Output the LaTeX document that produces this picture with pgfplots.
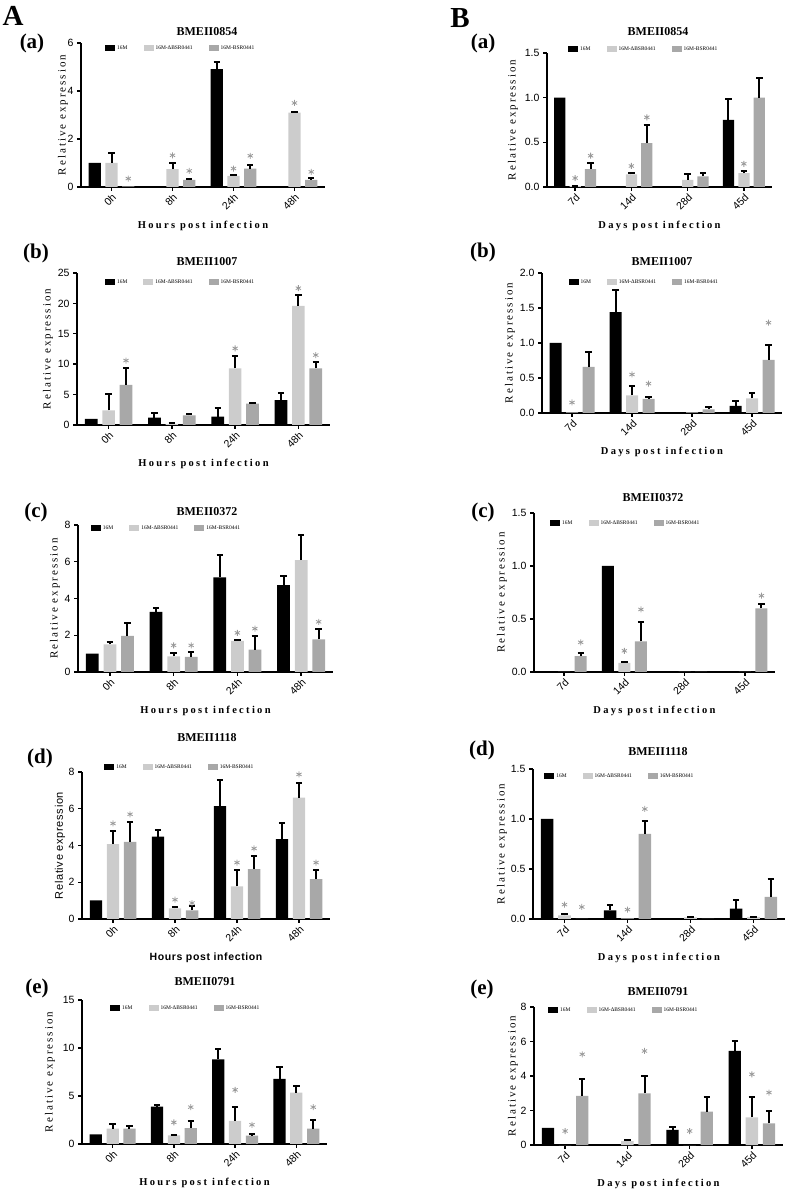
\documentclass[border=0pt]{standalone}
\usepackage{fontspec}
\setmainfont{Liberation Serif}
\setsansfont{Liberation Sans}
\newfontfamily\lsserif[LetterSpace=18]{Liberation Serif}
\newfontfamily\lsserifx[LetterSpace=22]{Liberation Serif}
\newfontfamily\lssans[LetterSpace=6]{Liberation Sans}
\usepackage{pgfplots}
\usepackage{pgfplotstable}
\pgfplotsset{compat=1.18}
\definecolor{lg}{gray}{0.80}
\definecolor{dg}{gray}{0.66}
\definecolor{ast}{gray}{0.60}

\pgfplotsset{
 panel/.style={
  scale only axis, anchor=south west,
  axis lines*=left,
  axis line style={line width=1.8pt},
  xmin=-0.5, xmax=3.5, ymin=0,
  xtick={0,1,2,3},
  tick align=outside, major tick length=4pt,
  tick style={black, line width=1.4pt},
  x tick label style={rotate=45, anchor=north east, font=\sffamily\fontsize{10.5}{12}\selectfont, inner sep=1pt},
  y tick label style={font=\sffamily\fontsize{10.5}{12}\selectfont},
  /pgf/number format/assume math mode=true,
  clip=false,
  every axis x label/.style={at={(axis description cs:0.5,0)}, anchor=center, yshift=-39pt},
  every axis y label/.style={at={(axis description cs:0,0.5)}, anchor=center, rotate=90},
  xlabel style={font=\lsserifx\bfseries\fontsize{10.5}{12}\selectfont},
  ylabel style={font=\lsserif\fontsize{11}{13}\selectfont},
  ylabel={Relative expression},
  legend columns=3,
  legend style={draw=none, fill=none, anchor=west, font=\fontsize{5.5}{6}\selectfont, inner sep=0pt,
    /tikz/every even column/.append style={column sep=14pt}},
  legend cell align=left,
  legend image code/.code={\fill[##1] (0pt,-3pt) rectangle (10pt,3pt);},
 },
 hours/.style={xticklabels={0h,8h,24h,48h}, xlabel={Hours post infection}},
 days/.style={xticklabels={7d,14d,28d,45d}, xlabel={Days post infection},
   yticklabel style={/pgf/number format/fixed, /pgf/number format/fixed zerofill, /pgf/number format/precision=1}},
 eb/.style={forget plot, draw=none, mark=none,
   error bars/y dir=plus, error bars/y explicit,
   error bars/error mark=-,
   error bars/error bar style={draw=black, line width=2pt},
   error bars/error mark options={rotate=90, draw=black, line width=2pt, mark size=3.2pt}},
 bk/.style={ybar, bar width=0.2, fill=black, draw=none},
 bl/.style={ybar, bar width=0.2, fill=lg, draw=none},
 bd/.style={ybar, bar width=0.2, fill=dg, draw=none},
 as/.style={only marks, mark=asterisk, mark size=3pt, color=ast, mark options={line width=0.8pt}, forget plot},
}

% x k ke d de c ce  (k = 16M, d = 16M-dBSR0441, c = 16M-BSR0441)
\pgfplotstableread{
x k ke d de c ce
0 1.0 0 1.0 0.4 0.03 0
1 0 0 0.74 0.26 0.3 0.05
2 4.91 0.28 0.46 0.04 0.77 0.13
3 0.02 0 3.1 0.04 0.3 0.08
}\tAa
\pgfplotstableread{
x k ke d de c ce
0 1.0 0 0.01 0.005 0.2 0.07
1 0 0 0.14 0.02 0.49 0.2
2 0 0 0.08 0.07 0.12 0.04
3 0.75 0.23 0.155 0.025 1.0 0.22
}\tBa
\pgfplotstableread{
x k ke d de c ce
0 1.0 0 2.4 2.7 6.6 2.7
1 1.2 0.7 0.2 0.1 1.6 0.2
2 1.37 1.38 9.3 2.1 3.5 0.1
3 4.1 1.1 19.6 1.7 9.3 1.0
}\tAb
\pgfplotstableread{
x k ke d de c ce
0 1.0 0 0.01 0 0.66 0.21
1 1.44 0.32 0.25 0.14 0.2 0.03
2 0 0 0.01 0 0.05 0.03
3 0.1 0.07 0.21 0.08 0.76 0.21
}\tBb
\pgfplotstableread{
x k ke d de c ce
0 1.0 0 1.5 0.14 1.96 0.68
1 3.27 0.23 0.85 0.19 0.82 0.28
2 5.15 1.21 1.69 0.07 1.22 0.73
3 4.73 0.49 6.09 1.36 1.78 0.55
}\tAc
\pgfplotstableread{
x k ke d de c ce
0 0 0 0 0 0.15 0.03
1 1.0 0 0.085 0.009 0.29 0.18
2 0 0 0 0 0 0
3 0 0 0 0 0.6 0.045
}\tBc
\pgfplotstableread{
x k ke d de c ce
0 1.01 0 4.08 0.72 4.2 1.09
1 4.48 0.36 0.58 0.05 0.47 0.22
2 6.14 1.44 1.77 0.9 2.71 0.72
3 4.35 0.9 6.6 0.82 2.17 0.5
}\tAd
\pgfplotstableread{
x k ke d de c ce
0 1.0 0 0.037 0.01 0 0
1 0.087 0.05 0.005 0 0.85 0.13
2 0.005 0 0.017 0.006 0 0
3 0.104 0.086 0.02 0.003 0.22 0.175
}\tBd
\pgfplotstableread{
x k ke d de c ce
0 1.0 0 1.6 0.48 1.6 0.23
1 3.9 0.18 0.9 0.07 1.66 0.76
2 8.82 1.04 2.42 1.42 0.87 0.2
3 6.78 1.22 5.36 0.63 1.6 0.86
}\tAe
\pgfplotstableread{
x k ke d de c ce
0 1.0 0 0 0 2.85 1.0
1 0 0 0.23 0.06 2.99 1.01
2 0.87 0.15 0 0 1.93 0.83
3 5.45 0.58 1.6 1.16 1.25 0.72
}\tBe

\newcommand{\bars}[1]{%
 \addplot[bk] table[x expr=\thisrow{x}-0.275, y=k] #1;
 \addplot[bl] table[x expr=\thisrow{x}, y=d] #1;
 \addplot[bd] table[x expr=\thisrow{x}+0.275, y=c] #1;
 \legend{16M,16M-ΔBSR0441,16M-BSR0441}
 \addplot[eb, restrict expr to domain={\thisrow{ke}}{0.0001:1000}] table[x expr=\thisrow{x}-0.275, y=k, y error=ke] #1;
 \addplot[eb, restrict expr to domain={\thisrow{de}}{0.0001:1000}] table[x expr=\thisrow{x}, y=d, y error=de] #1;
 \addplot[eb, restrict expr to domain={\thisrow{ce}}{0.0001:1000}] table[x expr=\thisrow{x}+0.275, y=c, y error=ce] #1;
}

\begin{document}
\begin{tikzpicture}
\useasboundingbox (0,0) rectangle (787pt,1193pt);
\tikzset{big/.style={font=\bfseries\fontsize{29}{30}\selectfont},
         lab/.style={font=\bfseries\fontsize{21}{22}\selectfont},
         ttl/.style={font=\bfseries\fontsize{12}{14}\selectfont}}
\node[big] at (13pt,1177pt) {A};
\node[big] at (460pt,1175pt) {B};
\node[lab] at (32pt,1150pt) {(a)};
\node[lab] at (36pt,940pt) {(b)};
\node[lab] at (36pt,681pt) {(c)};
\node[lab] at (40pt,435pt) {(d)};
\node[lab] at (37pt,205pt) {(e)};
\node[lab] at (483pt,1150pt) {(a)};
\node[lab] at (483pt,941pt) {(b)};
\node[lab] at (483pt,681pt) {(c)};
\node[lab] at (482pt,443pt) {(d)};
\node[lab] at (482pt,204pt) {(e)};
\node[ttl] at (207pt,1161pt) {BMEII0854};
\node[ttl] at (207pt,931pt) {BMEII1007};
\node[ttl] at (207pt,681pt) {BMEII0372};
\node[ttl] at (207pt,455pt) {BMEII1118};
\node[ttl] at (205pt,211pt) {BMEII0791};
\node[ttl] at (658pt,1161pt) {BMEII0854};
\node[ttl] at (662pt,931pt) {BMEII1007};
\node[ttl] at (653pt,695pt) {BMEII0372};
\node[ttl] at (658pt,441pt) {BMEII1118};
\node[ttl] at (658pt,201pt) {BMEII0791};

% A(a)
\begin{axis}[panel, hours, at={(81pt,1006pt)}, width=244pt, height=144pt,
  ymax=6, ytick={0,2,4,6}, ylabel style={yshift=18pt},
  legend style={at={(0.098,0.965)}}]
\bars{\tAa}
\addplot[as] coordinates {(0.275,0.35) (1,1.32) (1.275,0.67) (2,0.77) (2.275,1.3) (3,3.5) (3.275,0.63)};
\end{axis}
% A(b)
\begin{axis}[panel, hours, at={(77pt,768pt)}, width=253pt, height=152pt,
  ymax=25, ytick={0,5,10,15,20,25}, ylabel style={yshift=29pt},
  legend style={at={(0.11,0.94)}}]
\bars{\tAb}
\addplot[as] coordinates {(0.275,10.6) (2,12.6) (3,22.5) (3.275,11.5)};
\end{axis}
% A(c)
\begin{axis}[panel, hours, at={(78pt,521pt)}, width=255pt, height=147pt,
  ymax=8, ytick={0,2,4,6,8}, ylabel style={yshift=23pt},
  legend style={at={(0.05,0.98)}}]
\bars{\tAc}
\addplot[as] coordinates {(1,1.45) (1.275,1.45) (2,2.13) (2.275,2.36) (3.275,2.73)};
\end{axis}
% A(d)
\begin{axis}[panel, hours, at={(82pt,274pt)}, width=248pt, height=147pt,
  ymax=8, ytick={0,2,4,6,8}, ylabel style={yshift=22pt, font=\lssans\fontsize{11}{13}\selectfont},
  xlabel style={font=\lssans\bfseries\fontsize{10.5}{12}\selectfont},
  legend style={at={(0.089,1.034)}}]
\bars{\tAd}
\addplot[as] coordinates {(0,5.2) (0.275,5.7) (1,1.05) (1.275,0.87) (2,3.07) (2.275,3.84) (3,7.87) (3.275,3.07)};
\end{axis}
% A(e)
\begin{axis}[panel, hours, at={(82pt,49pt)}, width=245pt, height=144pt,
  ymax=15, ytick={0,5,10,15}, ylabel style={yshift=32pt},
  legend style={at={(0.114,0.944)}}]
\bars{\tAe}
\addplot[as] coordinates {(1,2.25) (1.275,3.84) (2,5.64) (2.275,2.0) (3.275,3.84)};
\end{axis}
% B(a)
\begin{axis}[panel, days, at={(547pt,1006pt)}, width=225pt, height=134pt,
  ymax=1.5, ytick={0,0.5,1,1.5}, ylabel style={yshift=34pt},
  legend style={at={(0.093,1.03)}}]
\bars{\tBa}
\addplot[as] coordinates {(0,0.1) (0.275,0.35) (1,0.235) (1.275,0.78) (3,0.26)};
\end{axis}
% B(b)
\begin{axis}[panel, days, at={(542pt,780pt)}, width=240pt, height=140pt,
  ymax=2, ytick={0,0.5,1,1.5,2}, ylabel style={yshift=32pt},
  legend style={at={(0.11,0.936)}}]
\bars{\tBb}
\addplot[as] coordinates {(0,0.15) (1,0.55) (1.275,0.42) (3.275,1.29)};
\end{axis}
% B(c)
\begin{axis}[panel, days, at={(534pt,521pt)}, width=241pt, height=159pt,
  ymax=1.5, ytick={0,0.5,1,1.5}, ylabel style={yshift=32pt},
  legend style={at={(0.066,0.937)}}]
\bars{\tBc}
\addplot[as] coordinates {(0.275,0.28) (1,0.2) (1.275,0.59) (3.275,0.72)};
\end{axis}
% B(d)
\begin{axis}[panel, days, at={(533pt,274pt)}, width=252pt, height=150pt,
  ymax=1.5, ytick={0,0.5,1,1.5}, ylabel style={yshift=31pt},
  legend style={at={(0.044,0.953)}}]
\bars{\tBd}
\addplot[as] coordinates {(0,0.144) (0.275,0.12) (1,0.094) (1.275,1.1)};
\end{axis}
% B(e)
\begin{axis}[panel, days, at={(534pt,48pt)}, width=249pt, height=138pt,
  ymax=8, ytick={0,2,4,6,8}, ylabel style={yshift=21pt},
  yticklabel style={/pgf/number format/precision=0},
  legend style={at={(0.056,0.978)}}]
\bars{\tBe}
\addplot[as] coordinates {(0,0.81) (0.275,5.26) (1.275,5.45) (2,0.81) (3,4.1) (3.275,3.04)};
\end{axis}
\end{tikzpicture}
\end{document}
